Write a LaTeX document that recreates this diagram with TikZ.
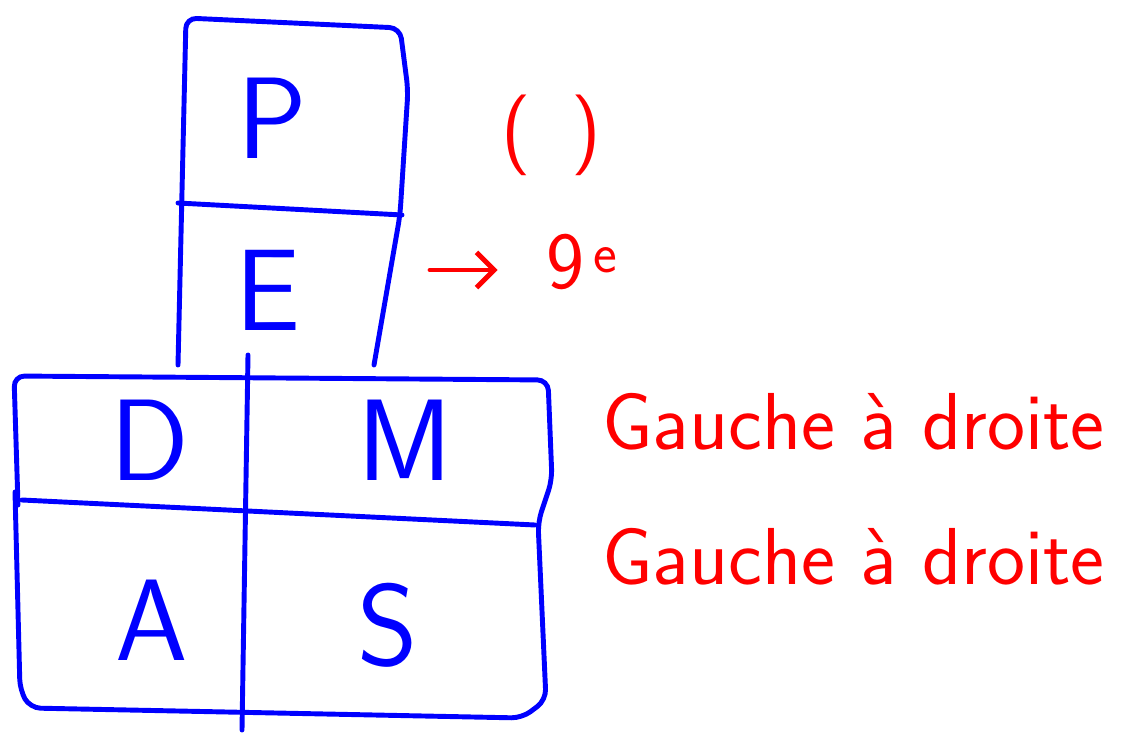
\documentclass[tikz,border=0pt]{standalone}
\usepackage{tikz}
\usetikzlibrary{arrows.meta}

\tikzset{
  box/.style={draw=blue, line width=2.8pt, rounded corners=6pt, line cap=round},
  letter/.style={text=blue, font=\sffamily\fontsize{66}{66}\selectfont},
  note/.style={text=red, font=\sffamily\fontsize{46}{48}\selectfont, anchor=west}
}

\begin{document}
\begin{tikzpicture}[x=0.02cm,y=-0.02cm]
	\useasboundingbox (0,0) rectangle (1129,733);
	% column P / E
	\draw[box] (178,365) -- (186,18) -- (400,28) -- (408,90) -- (400,215) -- (374,365);
	\draw[box] (178,203) -- (402,215);
	% lower block
	\draw[box] (18,505) -- (14,376) -- (548,380) -- (552,480) -- (538,522)
		-- (546,700) -- (522,718) -- (30,708) -- (20,690) -- (15,492);
	\draw[box] (22,500) -- (535,525);
	\draw[box] (248,355) -- (242,730);

	\node[letter] (p) at (272,118) {P};
	\node[letter] (e) at (268,290) {E};
	\node[letter] (d) at (150,440) {D};
	\node[letter] (m) at (405,440) {M};
	\node[letter] (a) at (152,620) {A};
	\node[letter] (s) at (388,625) {S};

	\node[note] (par) at (495,135) {(\enspace)};
	\node[note] (exp) at (540,262) {9\textsuperscript{\,e}};
	\coordinate (from) at (430,270);
	\draw[red, line width=2.8pt, line cap=round, -{Straight Barb[length=10pt,width=20pt]}, shorten >=0.85cm] (from) -- (exp.west |- from);
	\node[note] (md) at (596,422) {Gauche à droite};
	\node[note] (as) at (596,557) {Gauche à droite};
\end{tikzpicture}
\end{document}
